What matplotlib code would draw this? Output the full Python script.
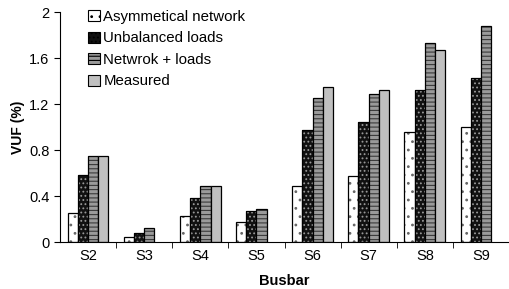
import numpy as np
import matplotlib.pyplot as plt
from matplotlib.patches import Patch

plt.rcParams['font.family'] = ['Liberation Sans', 'DejaVu Sans']
plt.rcParams['hatch.linewidth'] = 0.8

busbars = ["S2", "S3", "S4", "S5", "S6", "S7", "S8", "S9"]
asym_network = [0.25, 0.04, 0.23, 0.17, 0.49, 0.57, 0.96, 1.00]
unbal_loads = [0.58, 0.08, 0.38, 0.27, 0.97, 1.04, 1.32, 1.43]
network_loads = [0.75, 0.12, 0.49, 0.29, 1.25, 1.29, 1.73, 1.88]
measured = [0.75, np.nan, 0.49, np.nan, 1.35, 1.32, 1.67, np.nan]

labels = ["Asymmetical network", "Unbalanced loads", "Netwrok + loads", "Measured"]
# (facecolor, hatch, hatch colour)
styles = [
    ("white", "..", "#666666"),
    ("#111111", "....", "#999999"),
    ("#9a9a9a", "----", "#3a3a3a"),
    ("#c0c0c0", None, None),
]

fig = plt.figure(figsize=(5.09, 2.89), dpi=100)
ax = fig.add_axes([60 / 509, 47 / 289, 449 / 509, 230 / 289])

x = np.arange(len(busbars))
width = 0.182
series = [asym_network, unbal_loads, network_loads, measured]
for i, vals in enumerate(series):
    fc, hatch, hc = styles[i]
    xs = x + (i - 1.5) * width
    vals = np.array(vals, dtype=float)
    ax.bar(xs, vals, width=width, color=fc, edgecolor=hc if hc else "black",
           hatch=hatch, linewidth=0)
    ax.bar(xs, vals, width=width, fill=False, edgecolor="black", linewidth=0.9)

ax.set_xlim(-0.5, 7.447)
ax.set_ylim(0, 2)
ax.set_yticks([0, 0.4, 0.8, 1.2, 1.6, 2.0])
ax.set_yticklabels(["0", "0.4", "0.8", "1.2", "1.6", "2"])
ax.set_xticks(x)
ax.set_xticklabels(busbars)
ax.set_xticks(np.arange(len(busbars)) + 0.5, minor=True)
ax.tick_params(axis="x", which="major", length=0, labelsize=10.5, pad=5)
ax.tick_params(axis="x", which="minor", length=4, direction="out")
ax.tick_params(axis="y", length=4, direction="out", labelsize=10.5)

for side in ["top", "right"]:
    ax.spines[side].set_visible(False)

ax.set_ylabel("VUF (%)", fontsize=10, fontweight="bold", labelpad=3)
ax.set_xlabel("Busbar", fontsize=10.5, fontweight="bold", labelpad=8)

handles = []
for fc, hatch, hc in styles:
    handles.append(Patch(facecolor=fc, edgecolor="black", hatch=hatch, linewidth=0.8))
ax.legend(handles, labels, loc="upper left", bbox_to_anchor=(0.05, 1.035),
          frameon=False, fontsize=10.8, handlelength=0.75, handleheight=0.75,
          handletextpad=0.25, labelspacing=0.5, borderaxespad=0)

fig.savefig("out.png", dpi=100)
